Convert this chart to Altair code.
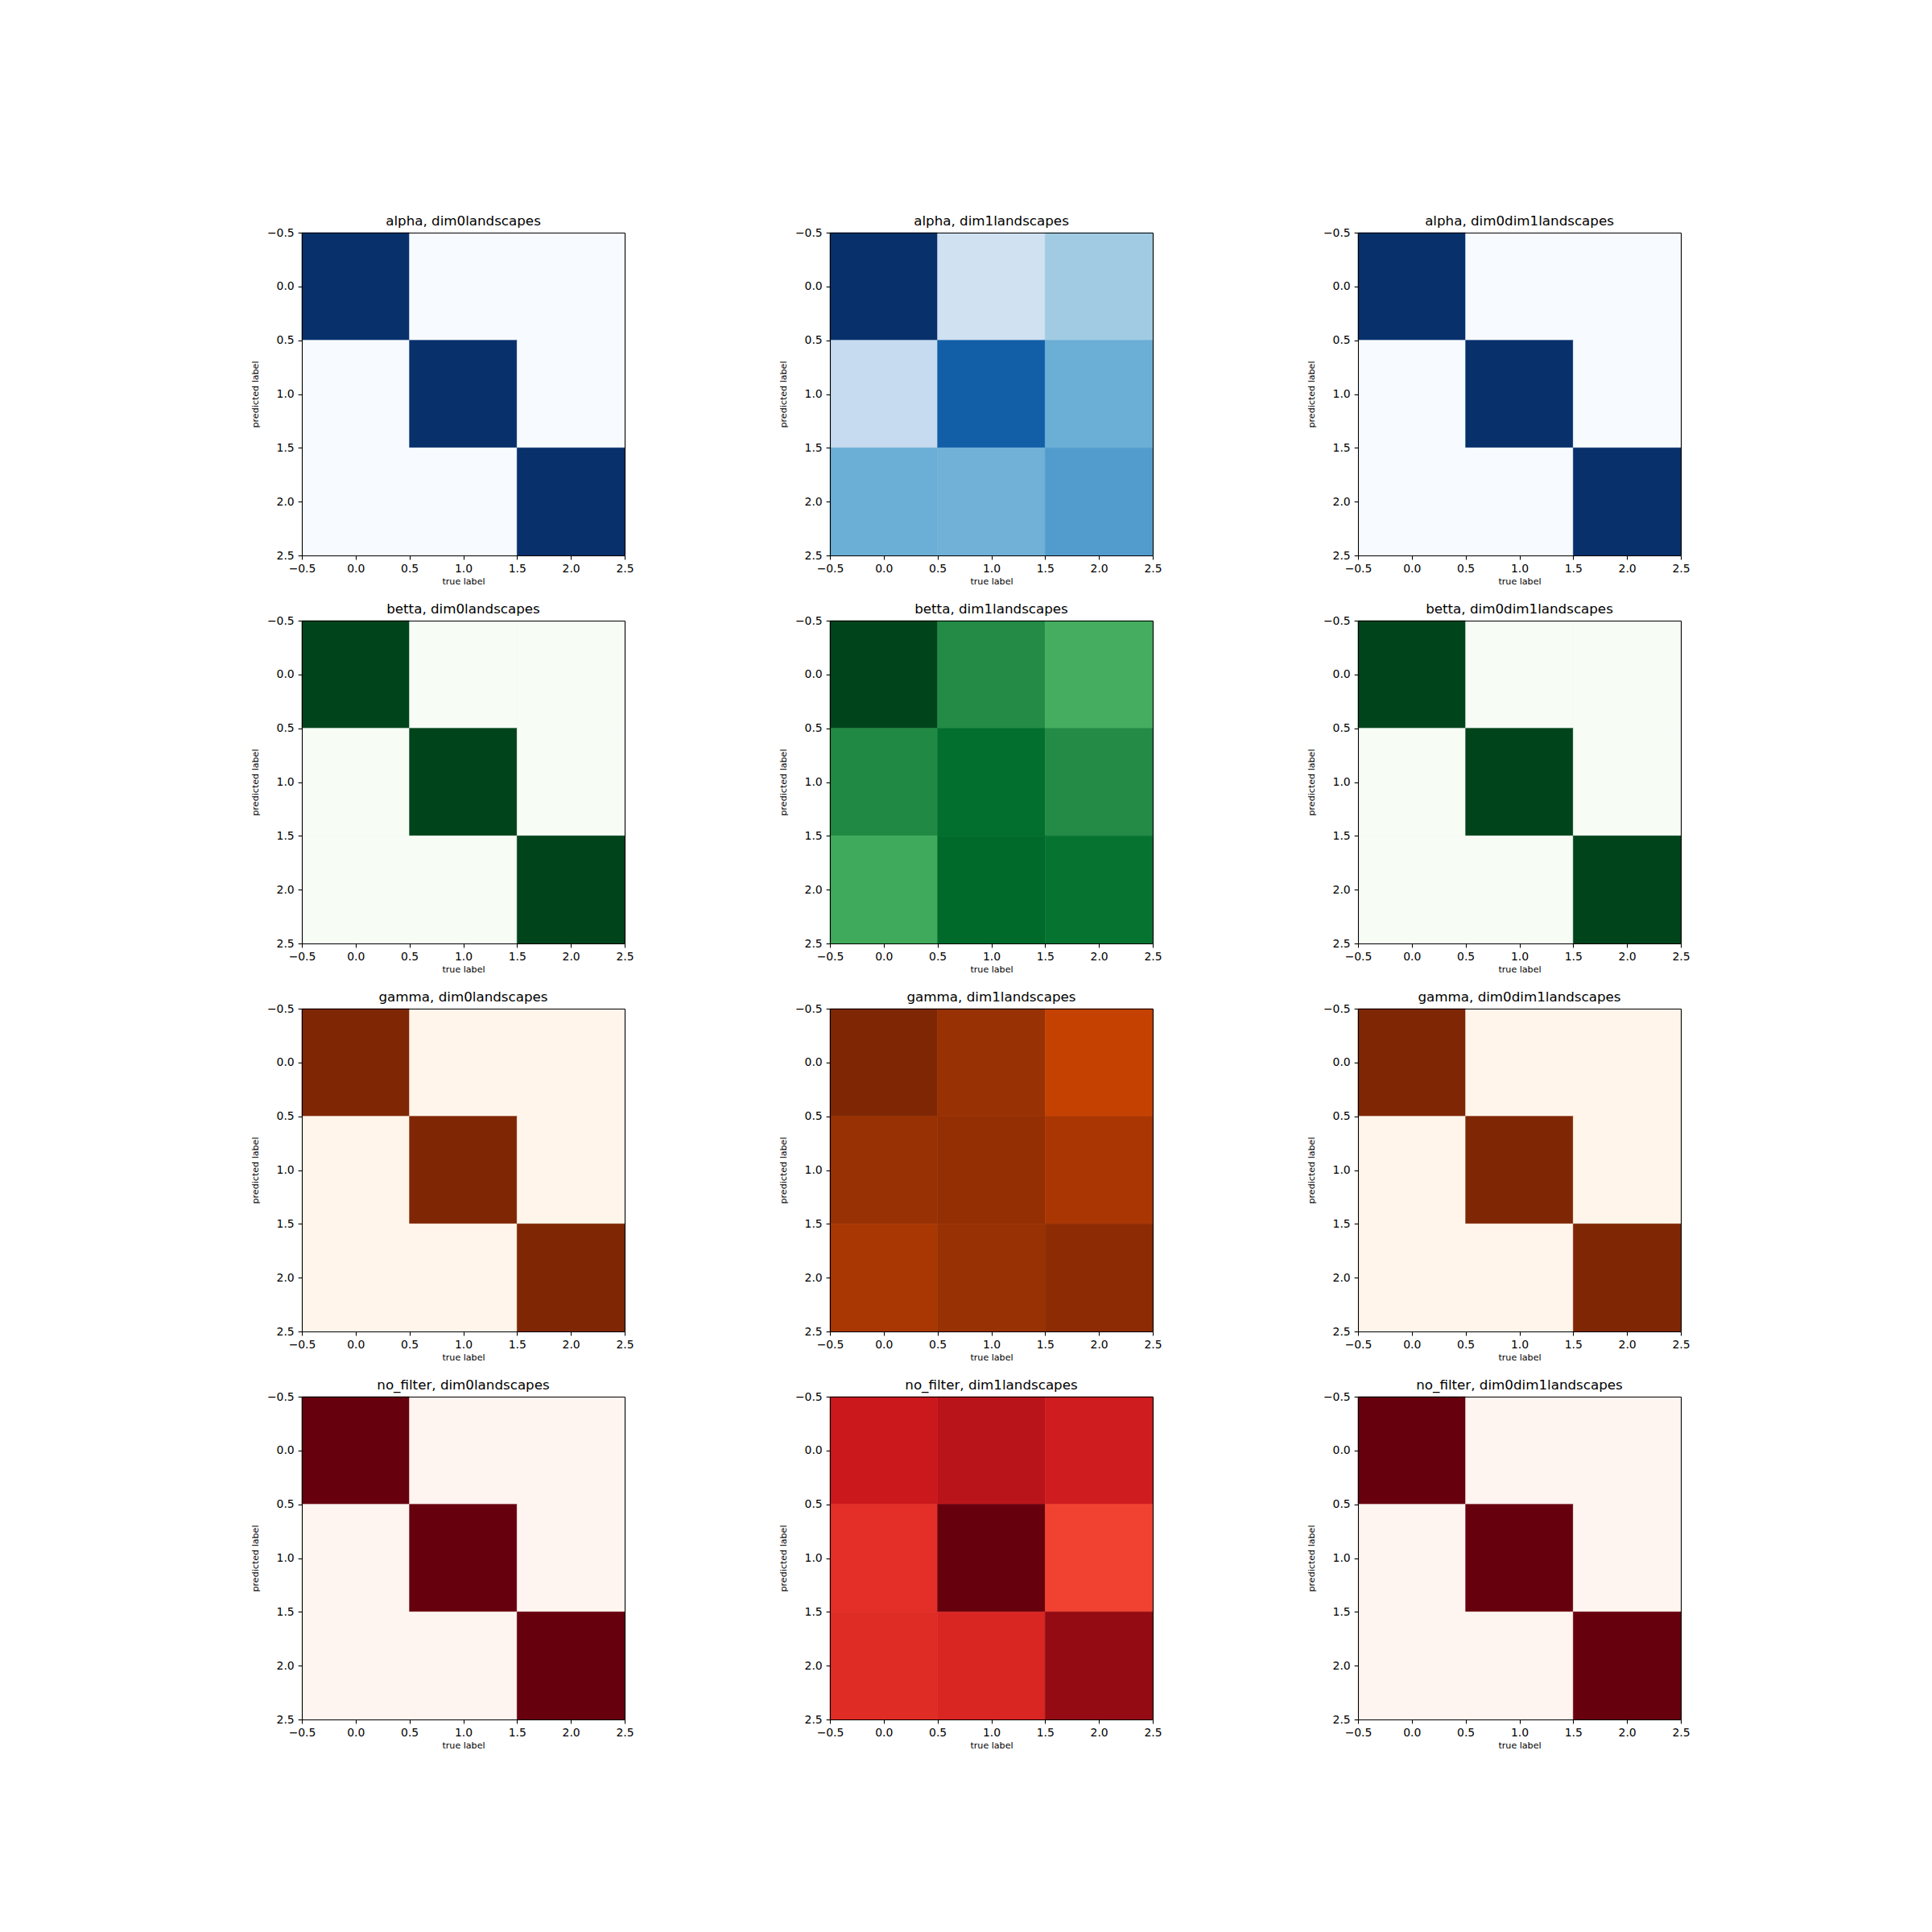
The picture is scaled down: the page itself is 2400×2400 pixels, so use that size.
import altair as alt
import pandas as pd

FILTERS = ["alpha", "betta", "gamma", "no_filter"]
FEATURES = ["dim0landscapes", "dim1landscapes", "dim0dim1landscapes"]
LABELS = [0, 1, 2]
TICKS = [-0.5, 0.0, 0.5, 1.0, 1.5, 2.0, 2.5]

# confusion matrices: rows = predicted label, cols = true label
identity = [[1.0, 0.0, 0.0], [0.0, 1.0, 0.0], [0.0, 0.0, 1.0]]
alpha_dim1 = [[1.00, 0.20, 0.37], [0.25, 0.82, 0.50], [0.50, 0.485, 0.58]]
betta_dim1 = [[1.00, 0.75, 0.615], [0.76, 0.865, 0.75], [0.63, 0.885, 0.85]]
gamma_dim1 = [[1.00, 0.92, 0.80], [0.92, 0.935, 0.865], [0.87, 0.92, 0.955]]
nofilter_dim1 = [[0.75, 0.81, 0.735], [0.667, 1.00, 0.606], [0.68, 0.70, 0.91]]

MATRICES = {
    "alpha": [identity, alpha_dim1, identity],
    "betta": [identity, betta_dim1, identity],
    "gamma": [identity, gamma_dim1, identity],
    "no_filter": [identity, nofilter_dim1, identity],
}

STOPS = [0.0, 0.125, 0.25, 0.375, 0.5, 0.625, 0.75, 0.875, 1.0]
BLUES = ["#f7fbff", "#deebf7", "#c6dbef", "#9ecae1", "#6baed6", "#4292c6", "#2171b5", "#08519c", "#08306b"]
GREENS = ["#f7fcf5", "#e5f5e0", "#c7e9c0", "#a1d99b", "#74c476", "#41ab5d", "#238b45", "#006d2c", "#00441b"]
ORANGES = ["#fff5eb", "#fee6ce", "#fdd0a2", "#fdae6b", "#fd8d3c", "#f16913", "#d94801", "#a63603", "#7f2704"]
REDS = ["#fff5f0", "#fee0d2", "#fcbba1", "#fc9272", "#fb6a4a", "#ef3b2c", "#cb181d", "#a50f15", "#67000d"]
CMAPS = {"alpha": BLUES, "betta": GREENS, "gamma": ORANGES, "no_filter": REDS}

FONT = "DejaVu Sans"
PANEL = 401


def panel(filt, feat, mat, cmap):
    recs = []
    for i, p in enumerate(LABELS):
        for j, t in enumerate(LABELS):
            recs.append({"x0": t - 0.5, "x1": t + 0.5, "y0": p - 0.5, "y1": p + 0.5, "v": mat[i][j]})
    df = pd.DataFrame(recs)
    common_axis = dict(
        values=TICKS, format=".1f", grid=False,
        domain=True, domainColor="black", domainWidth=1.1, zindex=1,
        labelFlush=False, labelOverlap=False, labelBound=False,
        tickSize=4.9, tickWidth=1.1, tickColor="black",
        labelFontSize=13.9, labelFont=FONT, labelColor="black", labelPadding=4.9,
        titleFontSize=11.1, titleFont=FONT, titleFontWeight="normal", titleColor="black",
    )
    frame_axis = dict(
        grid=False, labels=False, ticks=False, title=None,
        domain=True, domainColor="black", domainWidth=1.1, zindex=1,
    )
    xs = alt.Scale(domain=[-0.5, 2.5], nice=False, zero=False)
    ys = alt.Scale(domain=[-0.5, 2.5], nice=False, zero=False, reverse=True)
    cs = alt.Scale(domain=STOPS, range=cmap, interpolate="rgb")
    base = alt.Chart(df)
    cells = base.mark_rect(strokeWidth=0.6).encode(
        x=alt.X("x0:Q", scale=xs, axis=alt.Axis(title="true label", titlePadding=3, **common_axis)),
        x2="x1:Q",
        y=alt.Y("y0:Q", scale=ys, axis=alt.Axis(title="predicted label", titlePadding=9, **common_axis)),
        y2="y1:Q",
        color=alt.Color("v:Q", scale=cs, legend=None),
        stroke=alt.Stroke("v:Q", scale=cs, legend=None),
    )
    frame = base.mark_rect(opacity=0).encode(
        x=alt.X("x0:Q", scale=xs, axis=alt.Axis(orient="top", **frame_axis)),
        x2="x1:Q",
        y=alt.Y("y0:Q", scale=ys, axis=alt.Axis(orient="right", **frame_axis)),
        y2="y1:Q",
    )
    return (
        alt.layer(cells, frame)
        .resolve_axis(x="independent", y="independent")
        .properties(
            width=PANEL,
            height=PANEL,
            title=alt.TitleParams(
                f"{filt}, {feat}", fontSize=16.7, font=FONT, fontWeight="normal",
                color="black", offset=8, dy=23, baseline="alphabetic", anchor="middle", frame="group",
            ),
        )
    )


panels = []
for filt in FILTERS:
    for k, feat in enumerate(FEATURES):
        panels.append(panel(filt, feat, MATRICES[filt][k], CMAPS[filt]))

chart = (
    alt.concat(*panels, columns=3, spacing=alt.RowColnumber(row=81, column=255), bounds="flush")
    .resolve_scale(color="independent", stroke="independent")
    .properties(padding={"left": 311, "top": 267, "right": 20, "bottom": 20}, background="white")
    .configure_view(stroke=None)
)

chart.save("out.html", embed_options={"renderer": "svg", "actions": False})
